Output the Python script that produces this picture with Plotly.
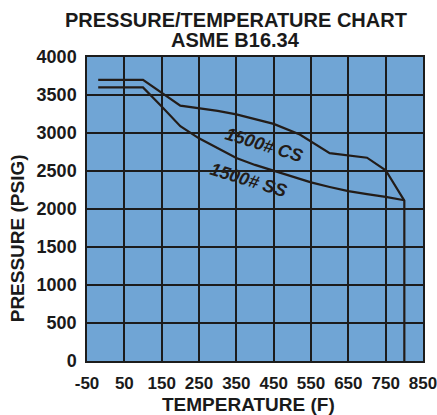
import plotly.graph_objects as go

# ---- data ----
cs_temp = [-20, 100, 200, 300, 350, 450, 520, 600, 700, 750, 800, 800]
cs_psig = [3700, 3700, 3360, 3290, 3245, 3120, 2980, 2735, 2675, 2510, 2110, 0]

ss_temp = [-20, 100, 150, 200, 250, 300, 350, 400, 450, 500, 550, 600, 650, 700, 750, 800]
ss_psig = [3600, 3600, 3350, 3090, 2930, 2795, 2670, 2580, 2500, 2420, 2350, 2290, 2235, 2195, 2160, 2115]

x_ticks = [-50, 50, 150, 250, 350, 450, 550, 650, 750, 850]
y_ticks = [0, 500, 1000, 1500, 2000, 2500, 3000, 3500, 4000]

labels = [
    {"text": "1500# CS", "x": 425, "y": 2845},
    {"text": "1500# SS", "x": 382, "y": 2385},
]

FONT = "Liberation Sans, Arial, sans-serif"
INK = "#231c18"
GRID = "#1c1c1c"
BG = "#70a5d5"

fig = go.Figure()
fig.add_trace(go.Scatter(x=cs_temp, y=cs_psig, mode="lines",
                         line=dict(color=INK, width=2.2), hoverinfo="skip", showlegend=False))
fig.add_trace(go.Scatter(x=ss_temp, y=ss_psig, mode="lines",
                         line=dict(color=INK, width=2.2), hoverinfo="skip", showlegend=False))

for lb in labels:
    fig.add_annotation(x=lb["x"], y=lb["y"], text="<b><i>" + lb["text"] + "</i></b>",
                       showarrow=False, textangle=17, xanchor="center", yanchor="middle",
                       font=dict(family=FONT, size=18, color=INK))

fig.update_xaxes(range=[-50, 850], tickmode="array", tickvals=x_ticks,
                 ticktext=[str(v) for v in x_ticks],
                 tickfont=dict(family=FONT, size=17, color="#1a1a1a", weight=700),
                 showgrid=True, gridcolor=GRID, gridwidth=1.5, zeroline=False,
                 showline=True, linecolor=GRID, linewidth=1.5, mirror=True,
                 ticks="", ticklabelstandoff=6, automargin=False,
                 ticklabeloverflow="allow")
fig.update_yaxes(range=[0, 4000], tickmode="array", tickvals=y_ticks,
                 ticktext=[str(v) for v in y_ticks],
                 tickfont=dict(family=FONT, size=18, color="#1a1a1a", weight=700),
                 showgrid=True, gridcolor=GRID, gridwidth=1.5, zeroline=False,
                 showline=True, linecolor=GRID, linewidth=1.5, mirror=True,
                 ticks="", ticklabelstandoff=5, automargin=False,
                 ticklabeloverflow="allow")

title_font = dict(family=FONT, size=20, color="#1a1a1a")
common = dict(xref="paper", yref="paper", showarrow=False, xanchor="center", yanchor="middle")
fig.add_annotation(x=0.443, y=1.1206, text="<b>PRESSURE/TEMPERATURE CHART</b>",
                   font=title_font, **common)
fig.add_annotation(x=0.443, y=1.0549, text="<b>ASME B16.34</b>",
                   font=title_font, **common)
fig.add_annotation(x=0.482, y=-0.1446, text="<b>TEMPERATURE (F)</b>",
                   font=dict(family=FONT, size=19, color="#1a1a1a"), **common)
fig.add_annotation(x=-0.208, y=0.404, text="<b>PRESSURE (PSIG)</b>", textangle=-90,
                   font=dict(family=FONT, size=19, color="#1a1a1a"), **common)

fig.update_layout(width=437, height=415,
                  margin=dict(l=87, r=14, t=57, b=54, autoexpand=False),
                  plot_bgcolor=BG, paper_bgcolor="white")

fig.write_html("out.html", config={"displayModeBar": False},
               post_script="document.body.style.margin='0';document.body.style.overflow='hidden';")
